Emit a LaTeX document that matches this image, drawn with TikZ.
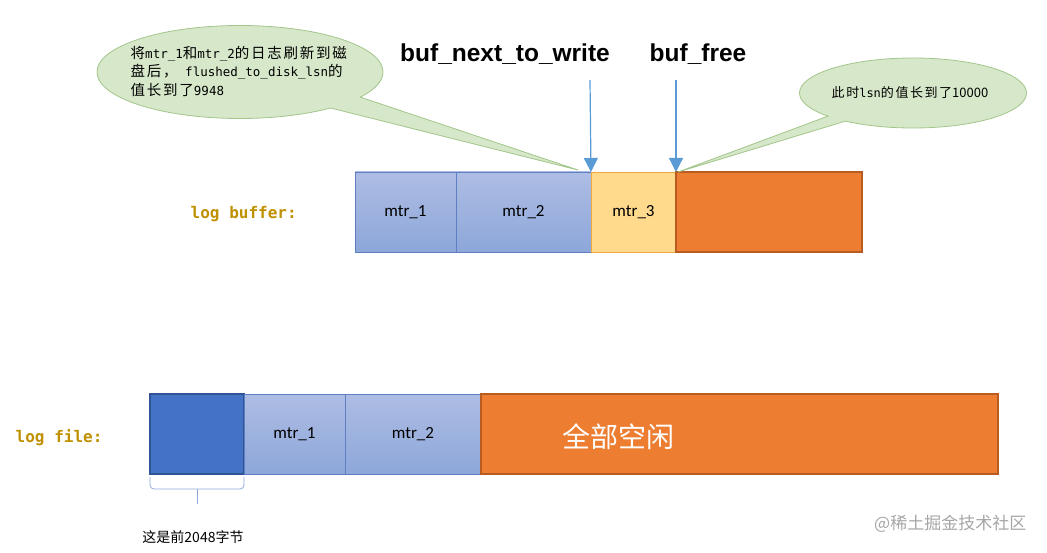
\documentclass[tikz,border=0pt]{standalone}
\usepackage{fontspec}
\usepackage{tikz}
\usetikzlibrary{shapes.callouts,arrows.meta}
\setmainfont{Carlito}
\setsansfont{Liberation Sans}
\setmonofont{DejaVu Sans Mono}
\newfontfamily\cjk{Noto Sans CJK SC}
\newfontfamily\cjkwide{Noto Sans CJK SC}[LetterSpace=12]
\newcommand{\zh}[1]{{\fontsize{14.5}{18.5}\selectfont\cjkwide #1}}
\newcommand{\logcellh}{80}
\definecolor{mtrtop}{HTML}{AEBDE3}
\definecolor{mtrbot}{HTML}{8DA7DA}
\definecolor{mtredge}{HTML}{5E80C2}
\definecolor{curfill}{HTML}{FFD98C}
\definecolor{curedge}{HTML}{F2A93B}
\definecolor{freefill}{HTML}{ED7D31}
\definecolor{freeedge}{HTML}{B85C22}
\definecolor{headfill}{HTML}{4472C4}
\definecolor{headedge}{HTML}{2F5597}
\definecolor{ptrblue}{HTML}{5B9BD5}
\definecolor{braceblue}{HTML}{8FAADC}
\definecolor{notefill}{HTML}{D6E8C9}
\definecolor{noteedge}{HTML}{A2C58A}
\definecolor{labgold}{HTML}{BF9000}

\begin{document}
\begin{tikzpicture}[x=1pt,y=-1pt,style=thick]
	\useasboundingbox (0,0) rectangle (1047,553);
	\tikzset{
		block/.style={inner sep=0pt,outer sep=0pt,minimum height=\logcellh,line width=0.8pt,font=\fontsize{17}{20}\selectfont},
		mtrcell/.style={block,draw=mtredge,top color=mtrtop,bottom color=mtrbot},
		curcell/.style={block,draw=curedge,fill=curfill},
		freecell/.style={block,draw=freeedge,fill=freefill,line width=2pt},
		headcell/.style={block,draw=headedge,fill=headfill,line width=2pt},
		ptr/.style={draw=ptrblue,line width=1.2pt,-{Triangle[width=14pt,length=14pt]}},
		bubble/.style={ellipse callout,draw=noteedge,fill=notefill,line width=0.8pt,inner sep=0pt},
		loglabel/.style={font=\ttfamily\bfseries\fontsize{16}{20}\selectfont,text=labgold,anchor=west},
		marker/.style={font=\sffamily\bfseries\fontsize{24.5}{28}\selectfont,anchor=base},
		brace/.style={draw=braceblue,line width=0.8pt,rounded corners=4pt}
	}
	% log buffer
	\node[mtrcell,minimum width=101] (bm1) at (405.5,212) {mtr\_1};
	\node[mtrcell,minimum width=135] (bm2) at (523.5,212) {mtr\_2};
	\node[curcell,minimum width=85] (bm3) at (633.5,212) {mtr\_3};
	\node[freecell,minimum width=186] (bfree) at (769,212) {};
	\node[loglabel] (buflab) at (187,214) {log buffer:};
	% log file
	\node[headcell,minimum width=94] (f0) at (197,434) {};
	\node[mtrcell,minimum width=101] (fm1) at (294.5,434) {mtr\_1};
	\node[mtrcell,minimum width=136] (fm2) at (413,434) {mtr\_2};
	\node[freecell,minimum width=517] (ffree) at (739.5,434) {};
	\node[font=\cjk\fontsize{28}{32}\selectfont,text=white] (freetxt) at (618,437) {全部空闲};
	\node[loglabel] (filelab) at (12,438) {log file:};
	% callouts
	\node[bubble,minimum width=286,minimum height=93,callout pointer arc=18,
		callout absolute pointer={([xshift=-13pt,yshift=2pt]bm3.north west)}] (flushnote) at (240,72) {};
	\node[anchor=west,align=left,font=\ttfamily\fontsize{12.5}{18.5}\selectfont] (flushtxt) at (127,71)
		{\zh{将}mtr\_1\zh{和}mtr\_2\zh{的日志刷新到磁}\\ \zh{盘后，} flushed\_to\_disk\_lsn\zh{的}\\ \zh{值长到了}9948};
	\node[bubble,minimum width=227,minimum height=70,callout pointer arc=12,
		callout absolute pointer={([xshift=2pt]bfree.north west)}] (lsnnote) at (913,93) {};
	\node[font=\cjkwide\fontsize{13}{15}\selectfont] (lsntxt) at (910,93)
		{此时{\ttfamily\fontsize{12}{15}\selectfont lsn}的值长到了{\cjk 10000}};
	% pointers
	\node[marker] (nwlab) at (505,62) {buf\_next\_to\_write};
	\node[marker] (freelab) at (698,62) {buf\_free};
	\coordinate (nwtop) at (590,80);
	\coordinate (freetop) at (676,80);
	\draw[ptr] (nwtop) -- (bm3.north west);
	\draw[ptr] (freetop) -- (bfree.north west);
	% first 2048 bytes
	\draw[brace] ([yshift=-3pt]f0.south west) |- ([yshift=-15pt]f0.south) -| ([yshift=-3pt]f0.south east);
	\draw[brace] ([yshift=-15pt]f0.south) -- ([yshift=-30pt]f0.south);
	\node[font=\cjk\fontsize{14}{16}\selectfont] (headtxt) at (193,537) {这是前2048字节};
	\node[font=\cjk\fontsize{17}{20}\selectfont,text=gray!70,anchor=east] (mark) at (1030,524) {@稀土掘金技术社区};
\end{tikzpicture}
\end{document}
